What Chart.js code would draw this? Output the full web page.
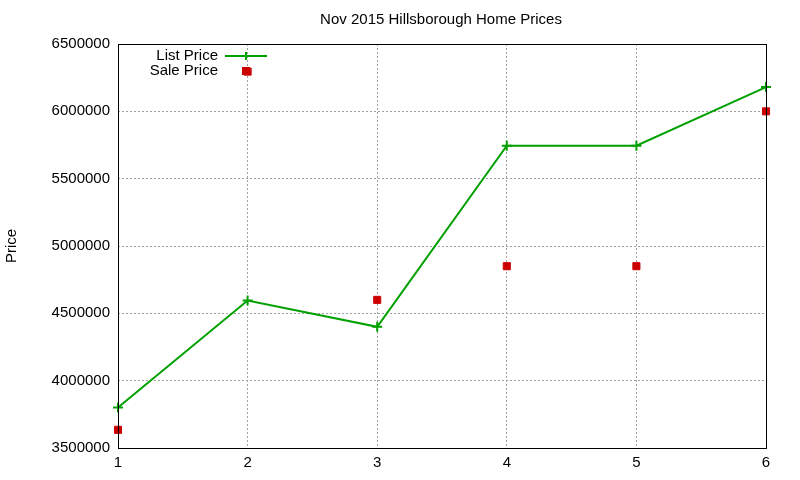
<!DOCTYPE html>
<html lang="en">
<head>
  <meta charset="UTF-8">
  <title>Nov 2015 Hillsborough Home Prices</title>
  <script src="https://cdn.jsdelivr.net/npm/chart.js"></script>
  <style>
    body { margin: 0; background: #fff; }
    #wrap { width: 800px; height: 480px; }
  </style>
</head>
<body>
  <div id="wrap"><canvas id="chart" width="800" height="480"></canvas></div>

  <script>
    const months = [1, 2, 3, 4, 5, 6];
    const listPrice = [3800000, 4595000, 4400000, 5745000, 5745000, 6180000];
    const salePrice = [3635000, 6295000, 4600000, 4850000, 4850000, 6000000];
    const yTicks = [3500000, 4000000, 4500000, 5000000, 5500000, 6000000, 6500000];

    const font = "'Liberation Sans', Arial, sans-serif";
    const green = '#00a000';
    const red = '#cc0000';

    // title, frame, y title and gnuplot-like legend
    const extras = {
      id: 'extras',
      afterDraw(chart) {
        const ctx = chart.ctx;
        const a = chart.chartArea;
        ctx.save();
        ctx.strokeStyle = '#000';
        ctx.lineWidth = 1;
        ctx.strokeRect(a.left + 0.5, a.top + 0.5, a.right - a.left, a.bottom - a.top);

        ctx.fillStyle = '#000';
        ctx.font = '15px ' + font;
        ctx.textAlign = 'center';
        ctx.textBaseline = 'middle';
        ctx.fillText('Nov 2015 Hillsborough Home Prices', 441, 20);

        ctx.save();
        ctx.translate(12, 246);
        ctx.rotate(-Math.PI / 2);
        ctx.fillText('Price', 0, 0);
        ctx.restore();

        ctx.textAlign = 'right';
        ctx.fillText('List Price', 218, 56);
        ctx.fillText('Sale Price', 218, 71);

        ctx.strokeStyle = green;
        ctx.lineWidth = 2;
        ctx.beginPath();
        ctx.moveTo(225, 56); ctx.lineTo(267, 56);
        ctx.moveTo(246, 52); ctx.lineTo(246, 60);
        ctx.stroke();

        ctx.fillStyle = red;
        ctx.fillRect(242, 67, 8, 8);
        ctx.restore();
      }
    };

    new Chart(document.getElementById('chart'), {
      type: 'line',
      data: {
        datasets: [
          {
            label: 'List Price',
            data: months.map((m, i) => ({ x: m, y: listPrice[i] })),
            borderColor: green,
            backgroundColor: green,
            borderWidth: 2,
            pointStyle: 'cross',
            pointRadius: 5,
            pointBorderWidth: 2,
            tension: 0,
            clip: false
          },
          {
            label: 'Sale Price',
            data: months.map((m, i) => ({ x: m, y: salePrice[i] })),
            showLine: false,
            borderColor: red,
            backgroundColor: red,
            pointStyle: 'rect',
            pointRadius: 5,
            pointBorderWidth: 1,
            clip: false
          }
        ]
      },
      options: {
        responsive: false,
        animation: false,
        layout: { padding: { top: 44, right: 34, left: 0, bottom: 0 } },
        plugins: { legend: { display: false }, title: { display: false }, tooltip: { enabled: false } },
        scales: {
          x: {
            type: 'linear',
            min: 1, max: 6,
            afterFit: s => { s.height = 32; },
            afterBuildTicks: s => { s.ticks = months.map(v => ({ value: v })); },
            grid: { color: '#a0a0a0', drawTicks: false },
            border: { dash: [2, 2], display: false },
            ticks: { color: '#000', font: { family: font, size: 15 }, padding: 6 }
          },
          y: {
            min: 3500000, max: 6500000,
            afterFit: s => { s.width = 118; },
            afterBuildTicks: s => { s.ticks = yTicks.map(v => ({ value: v })); },
            grid: { color: '#a0a0a0', drawTicks: false },
            border: { dash: [2, 2], display: false },
            ticks: { color: '#000', font: { family: font, size: 15 }, padding: 8, callback: v => String(v) }
          }
        }
      },
      plugins: [extras]
    });
  </script>
</body>
</html>
